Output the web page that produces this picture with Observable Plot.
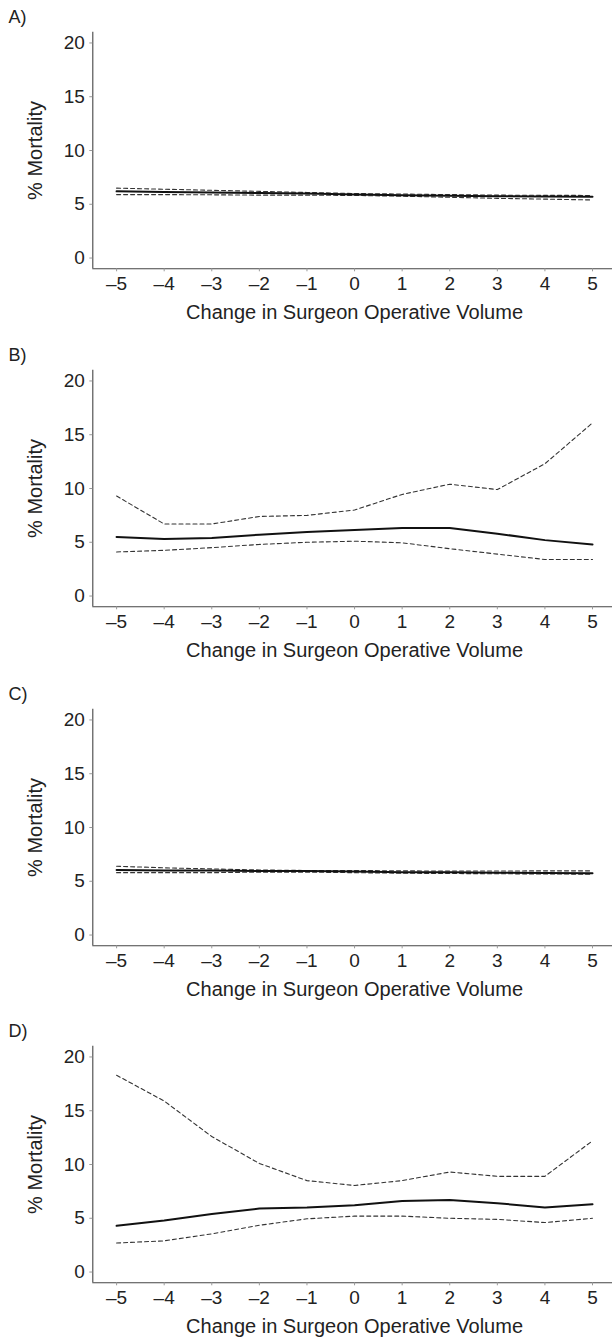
<!DOCTYPE html>
<html>
<head>
<meta charset="utf-8">
<script src="https://cdn.jsdelivr.net/npm/d3@7"></script>
<script src="https://cdn.jsdelivr.net/npm/@observablehq/plot@0.6"></script>
<style>
  html, body { margin: 0; padding: 0; background: #fff; }
  #wrap { position: relative; width: 612px; height: 1342px; overflow: hidden; }
  .panel { position: absolute; left: 0; }
</style>
</head>
<body>
<div id="wrap"></div>
<script>
const xVals = [-5, -4, -3, -2, -1, 0, 1, 2, 3, 4, 5];
const xTicks = [-5, -4, -3, -2, -1, 0, 1, 2, 3, 4, 5];
const yTicks = [0, 5, 10, 15, 20];
const panelLabels = ["A)", "B)", "C)", "D)"];
const xTitle = "Change in Surgeon Operative Volume";
const yTitle = "% Mortality";

const aMid = [6.2, 6.15, 6.1, 6.05, 6.0, 5.9, 5.85, 5.8, 5.75, 5.72, 5.7];
const aHi  = [6.5, 6.4, 6.3, 6.2, 6.1, 6.0, 5.95, 5.9, 5.85, 5.83, 5.82];
const aLo  = [5.9, 5.9, 5.88, 5.85, 5.85, 5.82, 5.75, 5.65, 5.55, 5.48, 5.4];

const bMid = [5.5, 5.3, 5.4, 5.7, 5.95, 6.15, 6.33, 6.33, 5.8, 5.2, 4.8];
const bHi  = [9.3, 6.7, 6.7, 7.4, 7.5, 8.0, 9.45, 10.4, 9.9, 12.3, 16.1];
const bLo  = [4.1, 4.25, 4.5, 4.8, 5.0, 5.1, 4.95, 4.4, 3.9, 3.4, 3.4];

const cMid = [6.05, 6.0, 6.0, 5.95, 5.95, 5.9, 5.85, 5.85, 5.8, 5.78, 5.75];
const cHi  = [6.4, 6.25, 6.15, 6.05, 6.0, 6.0, 5.97, 5.95, 5.95, 5.97, 5.97];
const cLo  = [5.8, 5.8, 5.8, 5.85, 5.85, 5.8, 5.75, 5.72, 5.7, 5.68, 5.66];

const dMid = [4.3, 4.8, 5.4, 5.9, 6.0, 6.2, 6.6, 6.7, 6.4, 6.0, 6.3];
const dHi  = [18.3, 15.9, 12.6, 10.1, 8.5, 8.05, 8.5, 9.3, 8.9, 8.9, 12.2];
const dLo  = [2.7, 2.9, 3.55, 4.35, 4.95, 5.2, 5.2, 5.0, 4.9, 4.6, 5.0];

const panels = [
  {label: panelLabels[0], mid: aMid, hi: aHi, lo: aLo},
  {label: panelLabels[1], mid: bMid, hi: bHi, lo: bLo},
  {label: panelLabels[2], mid: cMid, hi: cHi, lo: cLo},
  {label: panelLabels[3], mid: dMid, hi: dHi, lo: dLo}
];
const panelTops = [0, 337.7, 677, 1014.4];

const fmt = d => d < 0 ? "\u2013" + Math.abs(d) : String(d);
const wrap = document.getElementById("wrap");

panels.forEach((p, i) => {
  const rows = s => xVals.map((x, j) => ({x, y: s[j]}));
  const H = 337;
  const mTop = 31.7, mBottom = H - 268.3, mLeft = 92.3;
  const chart = Plot.plot({
    width: 612,
    height: H,
    marginTop: mTop,
    marginBottom: mBottom,
    marginLeft: mLeft,
    marginRight: 0,
    style: {fontFamily: "'Liberation Sans', Arial, Helvetica, sans-serif", fontSize: "19px", color: "#222", background: "#fff", overflow: "visible"},
    x: {domain: [-5.5, 5.42]},
    y: {domain: [-1, 21]},
    marks: [
      Plot.ruleY([-1], {stroke: "#444", strokeWidth: 1.1}),
      Plot.ruleX([-5.5], {stroke: "#444", strokeWidth: 1.1}),
      Plot.axisX({ticks: xTicks, tickFormat: fmt, tickSize: 3, tickPadding: 5, stroke: "#999", label: null, fontSize: 19}),
      Plot.axisY({ticks: yTicks, tickSize: 3, tickPadding: 5, stroke: "#999", label: null, fontSize: 19}),
      Plot.line(rows(p.hi), {x: "x", y: "y", stroke: "#333", strokeWidth: 1.1, strokeDasharray: "4,3"}),
      Plot.line(rows(p.lo), {x: "x", y: "y", stroke: "#333", strokeWidth: 1.1, strokeDasharray: "4,3"}),
      Plot.line(rows(p.mid), {x: "x", y: "y", stroke: "#111", strokeWidth: 2}),
      Plot.text([yTitle], {text: d => d, frameAnchor: "left", dx: 35 - mLeft, rotate: -90, textAnchor: "middle", lineAnchor: "middle", fontSize: 20, fill: "#222"}),
      Plot.text([xTitle], {text: d => d, x: () => 0, frameAnchor: "bottom", dy: 44, textAnchor: "middle", lineAnchor: "middle", fontSize: 20, fill: "#222"}),
      Plot.text([p.label], {text: d => d, frameAnchor: "top-left", dx: 8 - mLeft, dy: 17 - mTop, textAnchor: "start", lineAnchor: "middle", fontSize: 18, fill: "#222"})
    ]
  });
  chart.classList.add("panel");
  chart.style.top = panelTops[i] + "px";
  wrap.appendChild(chart);
});
</script>
</body>
</html>
